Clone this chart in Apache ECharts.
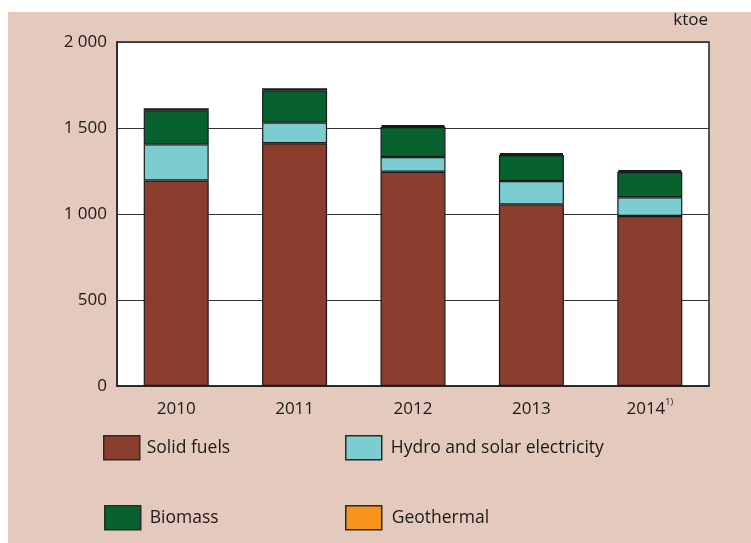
<!DOCTYPE html>
<html>
<head>
<meta charset="utf-8">
<script src="https://cdn.jsdelivr.net/npm/echarts@6/dist/echarts.min.js"></script>
<style>
  html, body { margin: 0; padding: 0; background: #ffffff; }
  #chart { width: 751px; height: 543px; }
</style>
</head>
<body>
<div id="chart"></div>
<script>
// Energy production by source, ktoe
const years = ['2010', '2011', '2012', '2013', '2014'];
const solidFuels = [1195, 1411, 1246, 1056, 988];
const hydroSolar = [210, 120, 85, 136, 109];
const biomass = [198, 188, 175, 151, 147];
const geothermal = [12, 12, 11, 11, 11];
const yTicks = { min: 0, max: 2000, step: 500 };

const FONT = '"Open Sans", "DejaVu Sans", sans-serif';
const TEXT = '#1a1a1a';
const EDGE = '#1a1a1a';

const colors = {
  solid: '#8b3e2d',
  hydro: '#7ccdd0',
  biomass: '#07622f',
  geo: '#f7941d'
};

function fmt(v) {
  return String(v).replace(/\B(?=(\d{3})+(?!\d))/g, ' ');
}

function bar(name, data, color, extra) {
  return Object.assign({
    name: name,
    type: 'bar',
    stack: 'total',
    data: data,
    barWidth: 65,
    itemStyle: { color: color, borderColor: EDGE, borderWidth: 1.2 },
    emphasis: { disabled: true }
  }, extra || {});
}

function legendItem(name, left, top, textPad) {
  return {
    data: [name],
    left: left,
    top: top,
    padding: 0,
    icon: 'rect',
    itemWidth: 36,
    itemHeight: 24,
    itemGap: 0,
    selectedMode: false,
    itemStyle: { borderColor: '#2a2a2a', borderWidth: 1.5 },
    textStyle: { fontFamily: FONT, fontSize: 17.5, color: TEXT, padding: textPad }
  };
}

const chart = echarts.init(document.getElementById('chart'), null, { renderer: 'canvas' });

chart.setOption({
  backgroundColor: '#e4c9bd',
  animation: false,
  grid: {
    left: 117, right: 42, top: 42, bottom: 157,
    show: true,
    backgroundColor: '#ffffff',
    borderColor: '#222222',
    borderWidth: 1.5
  },
  xAxis: {
    type: 'category',
    data: years,
    axisTick: { show: false },
    axisLine: { lineStyle: { color: '#222222', width: 1.5 } },
    axisLabel: {
      interval: 0,
      margin: 12,
      fontFamily: FONT,
      fontSize: 17,
      lineHeight: 22,
      color: TEXT,
      formatter: function (v) { return v === '2014' ? '{y|' + v + '}{sup|1)}' : '{y|' + v + '}'; },
      rich: {
        y: { fontFamily: FONT, fontSize: 17, lineHeight: 22, color: TEXT },
        sup: { fontFamily: FONT, fontSize: 9, lineHeight: 22, color: TEXT, verticalAlign: 'top', padding: [0, 0, 9, 0] }
      }
    }
  },
  yAxis: {
    type: 'value',
    min: yTicks.min,
    max: yTicks.max,
    interval: yTicks.step,
    axisTick: { show: false },
    axisLine: { show: true, lineStyle: { color: '#222222', width: 1.5 } },
    splitLine: { lineStyle: { color: '#333333', width: 1 } },
    axisLabel: {
      margin: 10,
      fontFamily: FONT,
      fontSize: 17,
      color: TEXT,
      formatter: fmt
    }
  },
  legend: [
    legendItem('Solid fuels', 103, 435, [0, 0, 0, 2]),
    legendItem('Hydro and solar electricity', 345, 435, [0, 0, 0, 4]),
    legendItem('Biomass', 104, 505, [4, 0, 0, 4]),
    legendItem('Geothermal', 345, 505, [0, 0, 0, 5])
  ],
  graphic: [
    { type: 'rect', left: 0, top: 0, shape: { width: 751, height: 12 }, style: { fill: '#ffffff' }, silent: true },
    { type: 'rect', left: 0, top: 0, shape: { width: 8, height: 543 }, style: { fill: '#ffffff' }, silent: true },
    {
      type: 'text', right: 43, top: 12,
      style: { text: 'ktoe', fontFamily: FONT, fontSize: 17, fill: TEXT }
    }
  ],
  series: [
    bar('Solid fuels', solidFuels, colors.solid),
    bar('Hydro and solar electricity', hydroSolar, colors.hydro),
    bar('Biomass', biomass, colors.biomass),
    bar('Geothermal', geothermal, colors.geo, {
      itemStyle: { color: colors.geo, borderColor: EDGE, borderWidth: 2 }
    })
  ]
});
</script>
</body>
</html>
